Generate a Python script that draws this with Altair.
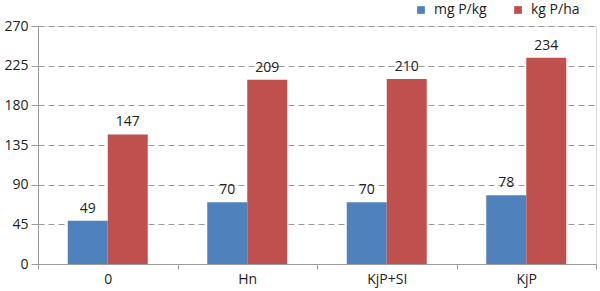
import altair as alt
import pandas as pd

categories = ["0", "Hn", "KjP+SI", "KjP"]
series_names = ["mg P/kg", "kg P/ha"]
mg_values = [49, 70, 70, 78]
kg_values = [147, 209, 210, 234]
y_ticks = [0, 45, 90, 135, 180, 225, 270]
colors = ["#4F81BD", "#C0504D"]

rows = []
for c, m, k in zip(categories, mg_values, kg_values):
    rows.append({"cat": c, "series": series_names[0], "value": m})
    rows.append({"cat": c, "series": series_names[1], "value": k})
df = pd.DataFrame(rows)

FONT = "Open Sans"
FS = 14

x = alt.X("cat:N", sort=categories, title=None,
          scale=alt.Scale(paddingInner=0, paddingOuter=0),
          axis=alt.Axis(labelAngle=0, tickBand="extent", grid=False,
                        domainColor="#9a9a9a", tickColor="#9a9a9a", tickSize=5,
                        labelFontSize=FS, labelColor="#222222", labelFont=FONT,
                        labelPadding=3))
y = alt.Y("value:Q", title=None,
          scale=alt.Scale(domain=[0, 270], nice=False, zero=True),
          axis=alt.Axis(values=y_ticks, grid=True, gridDash=[6, 4], gridColor="#9a9a9a",
                        gridWidth=1, domainColor="#9a9a9a", tickColor="#9a9a9a", tickSize=7,
                        labelFontSize=FS, labelColor="#222222", labelFont=FONT,
                        labelPadding=3, labelOverlap=False))
xoff = alt.XOffset("series:N", sort=series_names,
                   scale=alt.Scale(paddingInner=0, paddingOuter=0.744))
color = alt.Color("series:N", sort=series_names,
                  scale=alt.Scale(domain=series_names, range=colors),
                  legend=alt.Legend(title=None, orient="none", direction="horizontal",
                                    legendX=376, legendY=-23, symbolType="square",
                                    symbolSize=60, symbolStrokeWidth=0, labelFontSize=FS,
                                    labelFont=FONT, labelColor="#222222",
                                    columnPadding=24, symbolOffset=0, labelOffset=6))

base = alt.Chart(df).encode(x=x, xOffset=xoff, y=y)

bars = base.mark_bar(stroke=None).encode(color=color)
labels = base.mark_text(dy=-12, fontSize=FS, font=FONT, color="#222222").encode(
    text=alt.Text("value:Q"))

chart = (bars + labels).properties(
    width=558, height=238,
    autosize=alt.AutoSizeParams(type="none"),
    padding={"left": 38, "top": 26, "right": 4, "bottom": 27},
).configure_view(fill="#FCF3E7", stroke="#9a9a9a", strokeWidth=1
).configure(background="white")

chart.save("out.html", embed_options={"renderer": "svg", "actions": False})
